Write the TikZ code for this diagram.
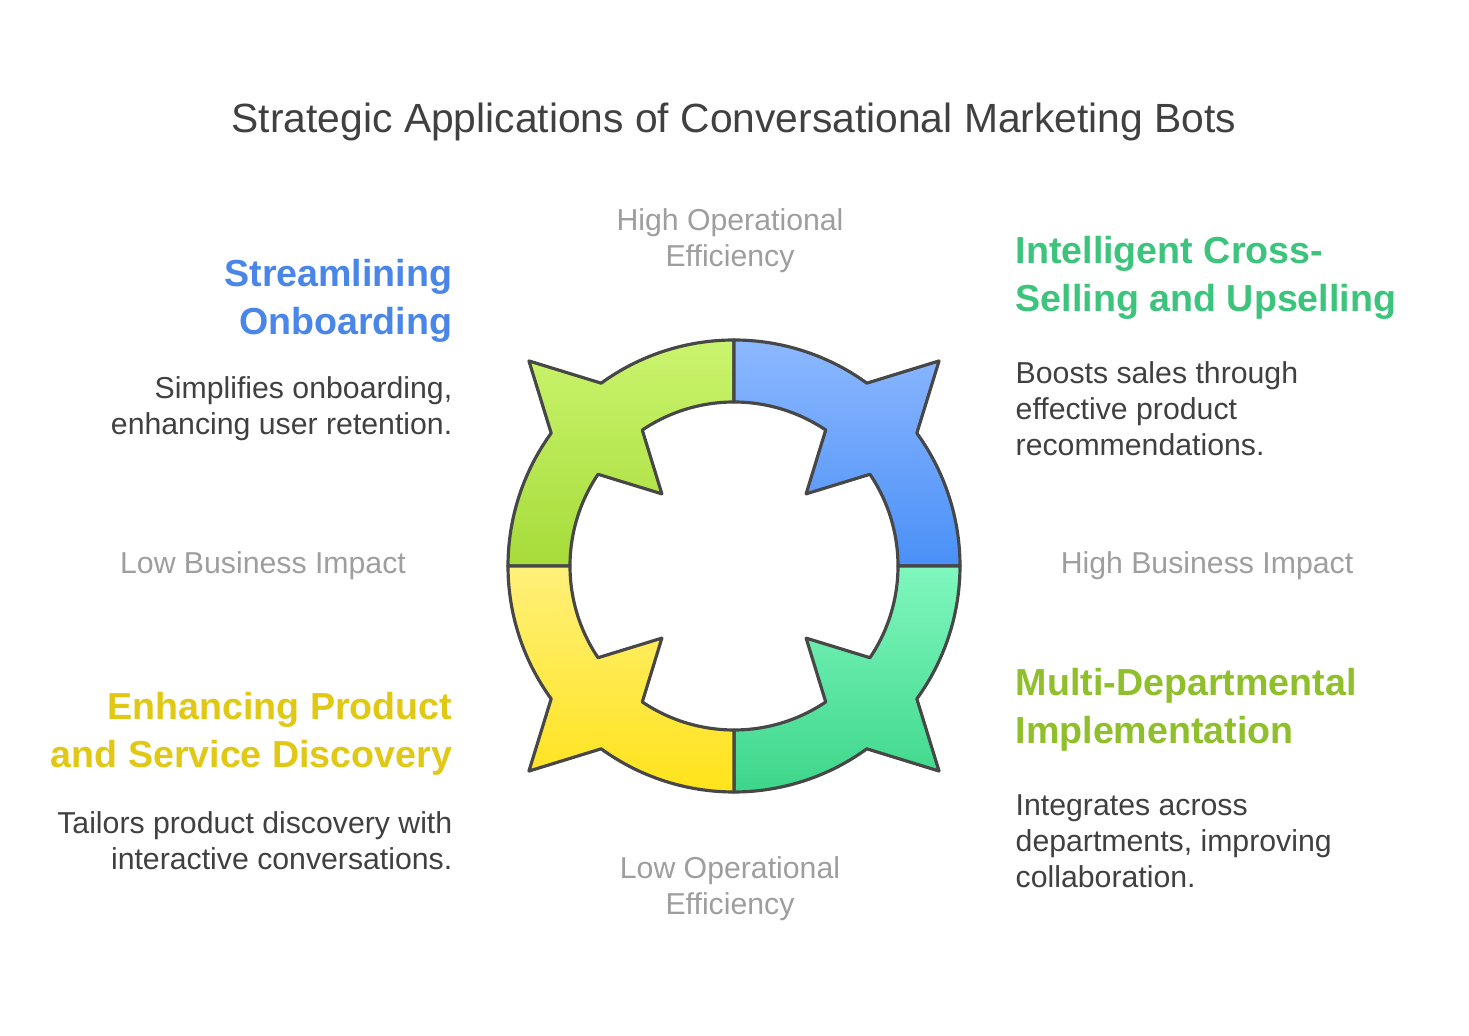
\documentclass[tikz,border=0pt]{standalone}
\usepackage{fontspec}
\setmainfont{Liberation Sans}
\definecolor{hBlue}{HTML}{4A86E8}
\definecolor{hGreen}{HTML}{3CC47C}
\definecolor{hOlive}{HTML}{8FBF2A}
\definecolor{hYellow}{HTML}{E0C815}
\definecolor{tlA}{HTML}{CBF46E}\definecolor{tlB}{HTML}{A6DC3A}
\definecolor{trA}{HTML}{8DB8FF}\definecolor{trB}{HTML}{4A90F7}
\definecolor{brA}{HTML}{7FF7BE}\definecolor{brB}{HTML}{3DD68A}
\definecolor{blA}{HTML}{FFF07A}\definecolor{blB}{HTML}{FFE31A}
\begin{document}
\begin{tikzpicture}[x=0.01cm,y=0.01cm,
  ring/.style={draw=black!72,line width=0.9pt,line join=round},
  axis/.style={text=black!38,font=\fontsize{8.6}{10.2}\selectfont,align=center},
  head/.style={font=\bfseries\fontsize{10.7}{13.6}\selectfont},
  body/.style={text=black!75,font=\fontsize{8.6}{10.2}\selectfont}]
\useasboundingbox (0,0) rectangle (1469,1036);
\newcommand\qshape[3]{%
  \path[ring,top color=#2,bottom color=#3] (#1+180:226) arc[start angle=#1+180,end angle=#1+144,radius=226]
   -- (#1+135:290) -- (#1+126:226) arc[start angle=#1+126,end angle=#1+90,radius=226]
   -- (#1+90:164) arc[start angle=#1+90,end angle=#1+124,radius=164]
   -- (#1+135:102) -- (#1+146:164) arc[start angle=#1+146,end angle=#1+180,radius=164] -- cycle;}
\begin{scope}[shift={(734,470)}]
\qshape{0}{tlA}{tlB}
\qshape{-90}{trA}{trB}
\qshape{-180}{brA}{brB}
\qshape{90}{blA}{blB}
\end{scope}
\node[text=black!75,font=\fontsize{11.6}{14}\selectfont] (title) at (734,914) {Strategic Applications of Conversational Marketing Bots};
\node[axis] (hoe) at (730,795) {High Operational\\Efficiency};
\node[axis] (loe) at (730,147) {Low Operational\\Efficiency};
\node[axis] (lbi) at (263,470) {Low Business Impact};
\node[axis] (hbi) at (1207,470) {High Business Impact};
\node[head,text=hBlue,anchor=east,align=right,inner sep=0] (h1) at (453,735) {Streamlining\\Onboarding};
\node[body,anchor=east,align=right,inner sep=0] (b1) at (453,627) {Simplifies onboarding,\\enhancing user retention.};
\node[head,text=hGreen,anchor=west,align=left,inner sep=0] (h2) at (1015,758) {Intelligent Cross-\\Selling and Upselling};
\node[body,anchor=west,align=left,inner sep=0] (b2) at (1015,627) {Boosts sales through\\effective product\\recommendations.};
\node[head,text=hOlive,anchor=west,align=left,inner sep=0] (h3) at (1015,326) {Multi-Departmental\\Implementation};
\node[body,anchor=west,align=left,inner sep=0] (b3) at (1015,195) {Integrates across\\departments, improving\\collaboration.};
\node[head,text=hYellow,anchor=east,align=right,inner sep=0] (h4) at (453,302) {Enhancing Product\\and Service Discovery};
\node[body,anchor=east,align=right,inner sep=0] (b4) at (453,195) {Tailors product discovery with\\interactive conversations.};
\end{tikzpicture}
\end{document}
